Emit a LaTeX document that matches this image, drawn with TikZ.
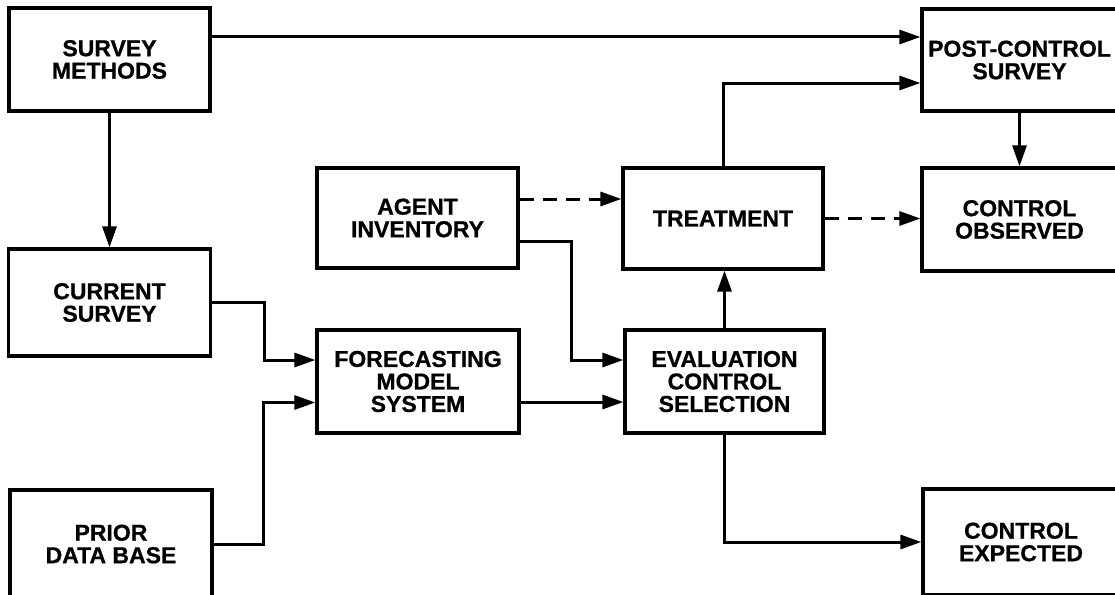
\documentclass[tikz,border=0pt]{standalone}
\usepackage{fontspec}
\usetikzlibrary{arrows.meta}
\newfontfamily\lbl[FakeBold=0.8]{Liberation Sans}
\begin{document}
\begin{tikzpicture}[x=1pt,y=-1pt,
  blk/.style={draw, line width=3.2pt, inner sep=0pt, align=center,
    font=\lbl\bfseries\fontsize{23}{22.5}\selectfont},
  arr/.style={line width=3pt, -{Triangle[length=21pt,width=14pt]}},
  dsh/.style={arr, dash pattern=on 14pt off 9pt}]
\useasboundingbox (0,0) rectangle (1115,594);
\fill[white] (0,0) rectangle (1115,594);
\clip (0,0) rectangle (1115,594);

% blocks
\node[blk, minimum width=201pt, minimum height=103pt] (sm)  at (109.5,59.5) {SURVEY\\METHODS};
\node[blk, minimum width=202pt, minimum height=107pt] (cs)  at (109.5,302.5) {CURRENT\\SURVEY};
\node[blk, minimum width=202pt, minimum height=108pt] (pdb) at (111,544)    {PRIOR\\DATA BASE};
\node[blk, minimum width=201pt, minimum height=100pt] (ai)  at (417.5,218)  {AGENT\\INVENTORY};
\node[blk, minimum width=202pt, minimum height=103pt] (fm)  at (418,381.5)  {FORECASTING\\MODEL\\SYSTEM};
\node[blk, minimum width=200pt, minimum height=101pt] (tr)  at (723,218.5)  {TREATMENT};
\node[blk, minimum width=199pt, minimum height=103pt] (ev)  at (724.5,381.5) {EVALUATION\\CONTROL\\SELECTION};
\node[blk, minimum width=195pt, minimum height=102pt] (pc)  at (1019.5,60)  {POST-CONTROL\\SURVEY};
\node[blk, minimum width=195pt, minimum height=103pt] (co)  at (1019.5,219.5) {CONTROL\\OBSERVED};
\node[blk, minimum width=196pt, minimum height=106pt] (ce)  at (1021,542)   {CONTROL\\EXPECTED};

% connectors
\draw[arr] ([yshift=22.5pt]sm.east) -- ([yshift=22.5pt]sm.east -| pc.west);
\draw[arr] (sm.south) -- (sm.south |- cs.north);
\draw[arr] (cs.east) -- ++(52,0) |- ([yshift=21.5pt]fm.west);
\draw[arr] (pdb.east) -- ++(50,0) |- ([yshift=-21pt]fm.west);
\draw[dsh] ([yshift=19pt]ai.east) -- ([yshift=19pt]ai.east -| tr.west);
\draw[arr] ([yshift=-23pt]ai.east) -- ++(52,0) |- ([yshift=21.5pt]ev.west);
\draw[arr] ([yshift=-20.5pt]fm.east) -- ([yshift=-20.5pt]fm.east -| ev.west);
\draw[arr] (ev.north) -- (ev.north |- tr.south);
\draw[arr] (tr.north) |- ([yshift=-23pt]pc.west);
\draw[arr] (pc.south) -- (pc.south |- co.north);
\draw[dsh] (tr.east) -- (tr.east -| co.west);
\draw[arr] (ev.south) |- (ce.west);
\end{tikzpicture}
\end{document}
